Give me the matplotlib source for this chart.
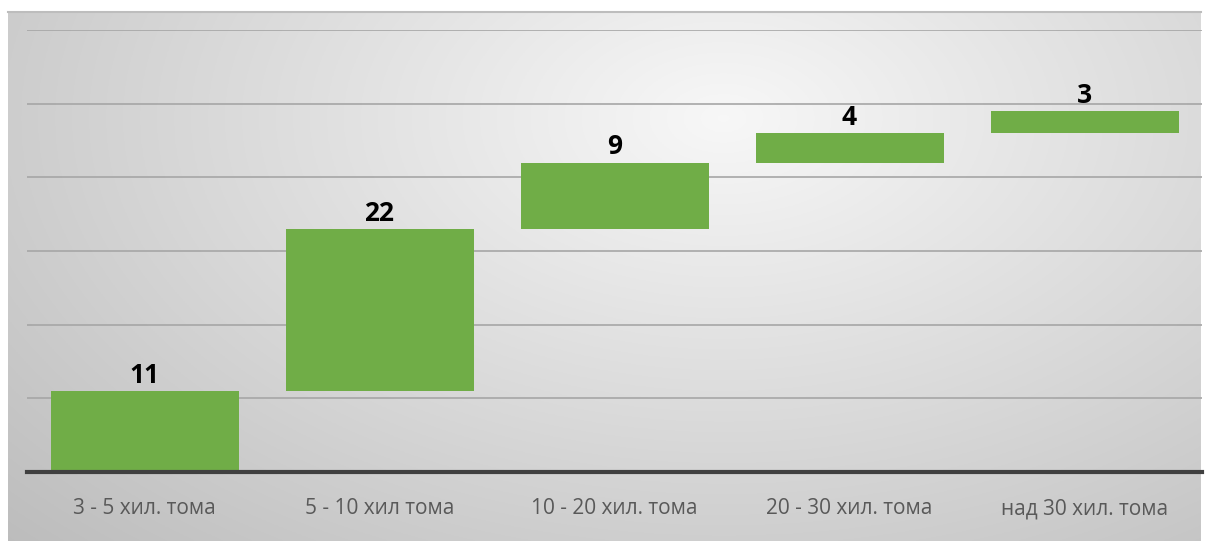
import matplotlib.pyplot as plt
import numpy as np

categories = ["3 - 5 хил. тома", "5 - 10 хил тома", "10 - 20 хил. тома",
              "20 - 30 хил. тома", "над 30 хил. тома"]
values = [11, 22, 9, 4, 3]

W, H = 1208, 543
fig = plt.figure(figsize=(W / 100, H / 100), dpi=100)
fig.patch.set_facecolor("white")

# gradient backdrop panel
bg = fig.add_axes([8 / W, 2 / H, (1201 - 8) / W, (531 - 2) / H])
bg.set_axis_off()
yy, xx = np.mgrid[0:1:300j, 0:1:600j]
r = np.sqrt(((xx - 0.6) / 0.8) ** 2 + ((yy - 0.2) / 1.1) ** 2)
shade = np.clip(0.97 - 0.22 * r, 0, 1)
bg.imshow(np.dstack([shade, shade, shade]), aspect="auto",
          extent=[0, 1, 0, 1], origin="upper")
bg.plot([0, 1], [1, 1], color="#bdbdbd", lw=1.5, transform=bg.transAxes,
        clip_on=False)

ax = fig.add_axes([27 / W, (H - 472) / H, (1202 - 27) / W, (472 - 30) / H])
ax.patch.set_alpha(0)

bottoms = np.concatenate([[0], np.cumsum(values)[:-1]])
x = np.arange(len(values))
ax.bar(x, values, bottom=bottoms, width=0.8, color="#70AD47", zorder=3)
for xi, b, v in zip(x, bottoms, values):
    ax.annotate(str(v), (xi, b + v), xytext=(0, 6), textcoords="offset points",
                ha="center", va="baseline", fontsize=19, fontweight="bold",
                color="black", family="Open Sans")

ax.set_xlim(-0.5, len(values) - 0.5)
ax.set_ylim(0, 60)
ax.set_yticks(np.arange(0, 61, 10))
ax.yaxis.grid(True, color="#a6a6a6", lw=1.2, zorder=0)
ax.tick_params(axis="y", left=False, labelleft=False)
ax.tick_params(axis="x", length=0, pad=19, labelsize=15, labelcolor="#595959")
ax.set_xticks(x)
ax.set_xticklabels(categories, family="Open Sans")
for s in ["top", "right", "left"]:
    ax.spines[s].set_visible(False)
ax.spines["bottom"].set_color("#404040")
ax.spines["bottom"].set_linewidth(3)
ax.spines["bottom"].set_zorder(4)

fig.savefig("out.png", dpi=100)
